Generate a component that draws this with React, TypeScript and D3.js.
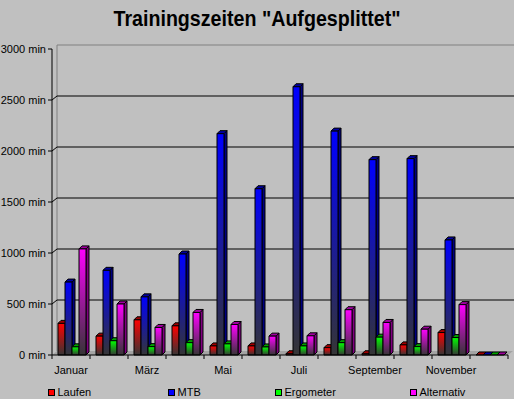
import { useEffect } from "react";
import * as d3 from "d3";

// Monate und Serien
const MONATE = ["Januar", "Februar", "März", "April", "Mai", "Juni", "Juli", "August", "September", "Oktober", "November", "Dezember"];
const MONATS_LABELS = ["Januar", "", "März", "", "Mai", "", "Juli", "", "September", "", "November", ""];
const SERIEN = ["Laufen", "MTB", "Ergometer", "Alternativ"];

// Minuten pro Monat
const LAUFEN = [310, 185, 345, 286, 89, 89, 12, 72, 12, 99, 220, 0];
const MTB = [715, 830, 570, 990, 2170, 1630, 2630, 2195, 1915, 1925, 1128, 0];
const ERGOMETER = [80, 140, 82, 121, 109, 79, 89, 121, 175, 82, 171, 0];
const ALTERNATIV = [1040, 500, 270, 417, 299, 185, 188, 444, 319, 253, 494, 0];

const Y_TICKS = [0, 500, 1000, 1500, 2000, 2500, 3000];

const FARBEN: Record<string, { front: string; side: string; top: string }> = {
  Laufen: { front: "#ff0000", side: "#800000", top: "#a00000" },
  MTB: { front: "#0000ff", side: "#000080", top: "#0000a0" },
  Ergometer: { front: "#00ff00", side: "#008000", top: "#00a000" },
  Alternativ: { front: "#ff00ff", side: "#800080", top: "#a000a0" },
};

const WIDTH = 514;
const HEIGHT = 399;
const DX = 3; // 3D-Tiefe
const DY = 3;

const App = () => {
  useEffect(() => {
    document.body.style.margin = "0";
  }, []);

  const werte: Record<string, number[]> = {
    Laufen: LAUFEN,
    MTB: MTB,
    Ergometer: ERGOMETER,
    Alternativ: ALTERNATIV,
  };

  const xScale = d3.scaleBand().domain(MONATE).range([52, 508]);
  const innerScale = d3.scaleBand().domain(SERIEN).range([6, 34]);
  const yScale = d3.scaleLinear().domain([0, 3000]).range([355, 49]);

  const y0 = yScale(0);
  const font = "'Liberation Sans', Arial, sans-serif";
  const wallX = 52 + DX + 2;
  const wallDY = 4;

  const legendX = [48, 168, 275, 410];

  return (
    <svg width={WIDTH} height={HEIGHT} style={{ display: "block", background: "#c0c0c0" }} fontFamily={font}>
      <defs>
        {SERIEN.map((s) => (
          <linearGradient key={s} id={`grad-${s}`} x1="0" y1="0" x2="0" y2="1">
            <stop offset="0" stopColor={FARBEN[s].front} />
            <stop offset="1" stopColor="#353535" />
          </linearGradient>
        ))}
      </defs>
      <rect x={0} y={0} width={WIDTH} height={HEIGHT} fill="#c0c0c0" />

      {/* Titel */}
      <text x={257} y={26} textAnchor="middle" fontSize={22} fontWeight="bold"
        fontFamily="'Liberation Sans Narrow', 'Arial Narrow', 'Liberation Sans', sans-serif"
        textLength={287} lengthAdjust="spacingAndGlyphs" fill="#000">
        Trainingszeiten "Aufgesplittet"
      </text>

      {/* Rückwand */}
      <line x1={wallX} x2={WIDTH} y1={yScale(3000) - wallDY} y2={yScale(3000) - wallDY} stroke="#808080" />
      <line x1={wallX} x2={wallX} y1={yScale(3000) - wallDY} y2={y0 - wallDY} stroke="#808080" />

      {/* Boden */}
      <polygon
        points={`52,${y0} 508,${y0} ${508 + 5},${y0 - wallDY} ${wallX},${y0 - wallDY}`}
        fill="#a4a4a4"
      />

      {/* Gitterlinien */}
      {Y_TICKS.filter((t) => t > 0 && t < 3000).map((t) => (
        <g key={t}>
          <line x1={wallX} x2={WIDTH} y1={yScale(t) - wallDY} y2={yScale(t) - wallDY} stroke="#000" />
          <line x1={52} x2={wallX} y1={yScale(t)} y2={yScale(t) - wallDY} stroke="#000" />
        </g>
      ))}

      {/* Balken */}
      {MONATE.map((m, i) =>
        SERIEN.map((s) => {
          const x = (xScale(m) ?? 0) + (innerScale(s) ?? 0);
          const w = innerScale.bandwidth();
          const yt = yScale(werte[s][i]);
          const h = y0 - yt;
          const c = FARBEN[s];
          return (
            <g key={`${m}-${s}`} stroke="#000" strokeWidth={1} strokeLinejoin="round">
              <polygon
                points={`${x + w},${yt} ${x + w + DX},${yt - DY} ${x + w + DX},${y0 - DY} ${x + w},${y0}`}
                fill={c.side}
              />
              <polygon
                points={`${x},${yt} ${x + DX},${yt - DY} ${x + w + DX},${yt - DY} ${x + w},${yt}`}
                fill={c.top}
              />
              {h > 0 && <rect x={x} y={yt} width={w} height={h} fill={`url(#grad-${s})`} />}
            </g>
          );
        })
      )}

      {/* Y-Achse */}
      <line x1={52} x2={52} y1={yScale(3000)} y2={y0} stroke="#000" />
      {Y_TICKS.map((t) => (
        <g key={t}>
          <line x1={48} x2={52} y1={yScale(t)} y2={yScale(t)} stroke="#000" />
          <text x={46} y={yScale(t) + 4} textAnchor="end" fontSize={11} fill="#000">
            {`${t} min`}
          </text>
        </g>
      ))}

      {/* X-Achse */}
      <line x1={52} x2={508} y1={y0} y2={y0} stroke="#000" />
      {MONATE.map((m) => (
        <line key={m} x1={xScale(m)} x2={xScale(m)} y1={y0} y2={y0 + 4} stroke="#000" />
      ))}
      <line x1={508} x2={508} y1={y0} y2={y0 + 4} stroke="#000" />
      {MONATE.map((m, i) =>
        MONATS_LABELS[i] ? (
          <text key={m} x={(xScale(m) ?? 0) + xScale.bandwidth() / 2} y={374}
            textAnchor="middle" fontSize={11} fill="#000">
            {MONATS_LABELS[i]}
          </text>
        ) : null
      )}

      {/* Legende */}
      {SERIEN.map((s, i) => (
        <g key={s}>
          <rect x={legendX[i] + 0.5} y={389.5} width={6} height={6} fill={FARBEN[s].front} stroke="#000" />
          <text x={legendX[i] + 9.5} y={396} fontSize={11} fill="#000">
            {s}
          </text>
        </g>
      ))}
    </svg>
  );
};

export default App;
